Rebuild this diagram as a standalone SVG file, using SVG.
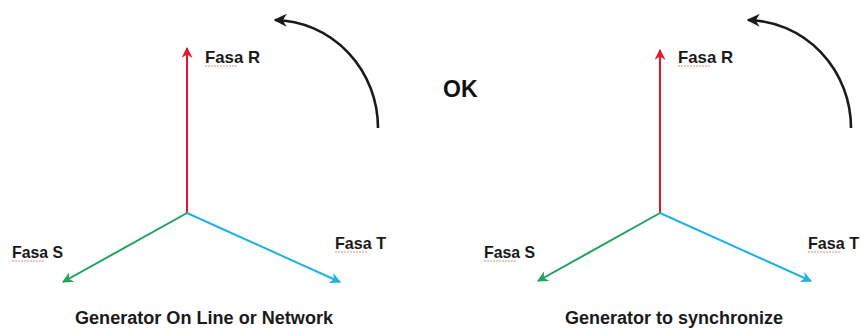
<svg xmlns="http://www.w3.org/2000/svg" width="862" height="329" viewBox="0 0 862 329">
<style>
.lbl{font-family:"Liberation Sans",Arial,sans-serif;font-weight:bold;font-size:17px;fill:#1a1a1a}
.ttl{font-family:"Liberation Sans",Arial,sans-serif;font-weight:bold;font-size:18px;fill:#1a1a1a}
.ok{font-family:"Liberation Sans",Arial,sans-serif;font-weight:bold;font-size:23px;fill:#111}
.sq{stroke:#e06a6a;stroke-width:1;stroke-dasharray:2 1;fill:none;opacity:0.8}
.r{stroke:#e8142c;stroke-width:2;fill:none}
.g{stroke:#1fa35a;stroke-width:2;fill:none}
.b{stroke:#1fb2e2;stroke-width:2;fill:none}
.k{stroke:#1a1a1a;stroke-width:2.6;fill:none}
</style>
<defs>
<marker id="mr" viewBox="0 0 10 10" refX="9" refY="5" markerWidth="11" markerHeight="11" markerUnits="userSpaceOnUse" orient="auto"><path d="M0,0 L10,5 L0,10 L3,5 z" fill="#e8142c"/></marker>
<marker id="mg" viewBox="0 0 10 10" refX="9" refY="5" markerWidth="11" markerHeight="11" markerUnits="userSpaceOnUse" orient="auto"><path d="M0,0 L10,5 L0,10 L3,5 z" fill="#1fa35a"/></marker>
<marker id="mb" viewBox="0 0 10 10" refX="9" refY="5" markerWidth="11" markerHeight="11" markerUnits="userSpaceOnUse" orient="auto"><path d="M0,0 L10,5 L0,10 L3,5 z" fill="#1fb2e2"/></marker>
<marker id="mk" viewBox="0 0 10 10" refX="9" refY="5" markerWidth="13" markerHeight="13" markerUnits="userSpaceOnUse" orient="auto"><path d="M0,0 L10,5 L0,10 L3,5 z" fill="#1a1a1a"/></marker>
</defs>
<rect width="862" height="329" fill="#ffffff"/>
<g id="connectors">
<path class="r" d="M187,213 L187,48" marker-end="url(#mr)"/>
<path class="g" d="M187,213 L63,282" marker-end="url(#mg)"/>
<path class="b" d="M187,213 L340,282" marker-end="url(#mb)"/>
<path class="k" d="M378,128 A105 108 0 0 0 275,20" marker-end="url(#mk)"/>
<path class="r" d="M660,213 L660,50" marker-end="url(#mr)"/>
<path class="g" d="M660,213 L538,281" marker-end="url(#mg)"/>
<path class="b" d="M660,213 L811,281" marker-end="url(#mb)"/>
<path class="k" d="M851,128 A105 108 0 0 0 748,20" marker-end="url(#mk)"/>
</g>
<g id="left-fasa-r"><text class="lbl" x="205" y="63" textLength="55" lengthAdjust="spacingAndGlyphs">Fasa R</text><path class="sq" d="M205,66 H238"/></g>
<g id="left-fasa-s"><text class="lbl" x="12" y="258" textLength="51" lengthAdjust="spacingAndGlyphs">Fasa S</text><path class="sq" d="M12,261 H45"/></g>
<g id="left-fasa-t"><text class="lbl" x="335" y="249" textLength="51" lengthAdjust="spacingAndGlyphs">Fasa T</text><path class="sq" d="M335,252 H368"/></g>
<g id="ok"><text class="ok" x="443" y="97">OK</text></g>
<g id="right-fasa-r"><text class="lbl" x="678" y="63" textLength="55" lengthAdjust="spacingAndGlyphs">Fasa R</text><path class="sq" d="M678,66 H711"/></g>
<g id="right-fasa-s"><text class="lbl" x="484" y="258" textLength="51" lengthAdjust="spacingAndGlyphs">Fasa S</text><path class="sq" d="M484,261 H517"/></g>
<g id="right-fasa-t"><text class="lbl" x="808" y="249" textLength="51" lengthAdjust="spacingAndGlyphs">Fasa T</text><path class="sq" d="M808,252 H841"/></g>
<g id="title-left"><text class="ttl" x="204" y="324" text-anchor="middle" textLength="258" lengthAdjust="spacingAndGlyphs">Generator On Line or Network</text></g>
<g id="title-right"><text class="ttl" x="674" y="324" text-anchor="middle" textLength="218" lengthAdjust="spacingAndGlyphs">Generator to synchronize</text></g>
</svg>
